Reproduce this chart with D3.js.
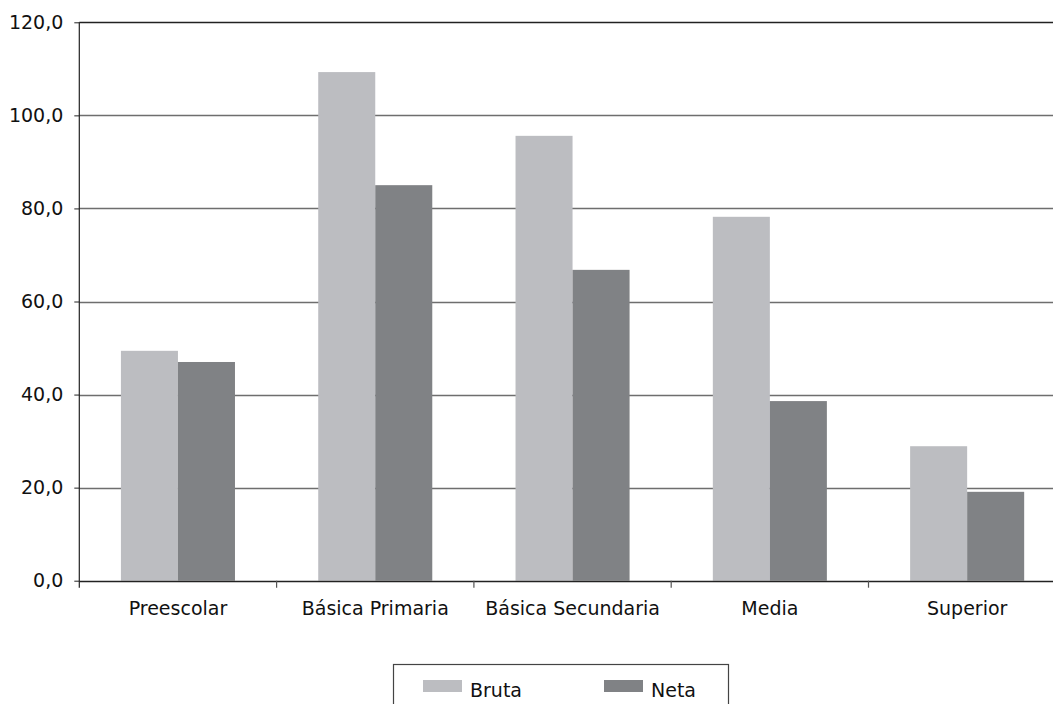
<!DOCTYPE html>
<html>
<head>
<meta charset="utf-8">
<script src="https://cdn.jsdelivr.net/npm/d3@7"></script>
<style>
  html, body { margin: 0; padding: 0; background: #fff; }
  svg { display: block; }
  text { font-family: "DejaVu Sans", sans-serif; fill: #111; }
</style>
</head>
<body>
<div id="chart"></div>
<script>
const categories = ["Preescolar", "Básica Primaria", "Básica Secundaria", "Media", "Superior"];
const seriesNames = ["Bruta", "Neta"];
const bruta = [49.4, 109.3, 95.6, 78.2, 28.9];
const neta = [47.0, 85.0, 66.8, 38.6, 19.1];
const yTicks = [0, 20, 40, 60, 80, 100, 120];
const colors = ["#bcbdc1", "#808285"];

(function () {
const W = 1053, H = 704;
const mLeft = 79.3, mTop = 22.3, mBottom = 580.7, step = 197.3;
const FS = 19;

const svg = d3.select("#chart").append("svg").attr("width", W).attr("height", H);

const x0 = d3.scaleBand().domain(categories).range([mLeft, mLeft + step * categories.length]).paddingInner(0).paddingOuter(0);
const x1 = d3.scaleBand().domain(seriesNames).range([0, x0.bandwidth()]).paddingInner(0).paddingOuter(0.73);
const y = d3.scaleLinear().domain([0, 120]).range([mBottom, mTop]);
const fmt = v => d3.format(".1f")(v).replace(".", ",");

// gridlines
svg.append("g").selectAll("line").data(yTicks.filter(d => d > 0)).join("line")
  .attr("x1", mLeft).attr("x2", W)
  .attr("y1", d => Math.round(y(d)) + 0.5).attr("y2", d => Math.round(y(d)) + 0.5)
  .attr("stroke", d => d === 120 ? "#222" : "#6e6e6e").attr("stroke-width", 1.3);

// bars
const data = categories.map((c, i) => ({ c, vals: [bruta[i], neta[i]] }));
const grp = svg.append("g").selectAll("g").data(data).join("g")
  .attr("transform", d => `translate(${x0(d.c)},0)`);
grp.selectAll("rect").data(d => d.vals.map((v, j) => ({ s: seriesNames[j], v, j }))).join("rect")
  .attr("x", d => x1(d.s)).attr("width", x1.bandwidth())
  .attr("y", d => y(d.v)).attr("height", d => y(0) - y(d.v))
  .attr("fill", d => colors[d.j]);

// y axis
const yAxis = d3.axisLeft(y).tickValues(yTicks).tickFormat(fmt).tickSize(5).tickPadding(11);
const ya = svg.append("g").attr("transform", `translate(${mLeft},0)`).call(yAxis);
ya.select(".domain").remove();
ya.selectAll(".tick line").attr("stroke", "#222");
ya.selectAll(".tick text").attr("font-size", FS).attr("font-family", "DejaVu Sans").attr("fill", "#111");
svg.append("line").attr("x1", mLeft).attr("x2", mLeft).attr("y1", mTop).attr("y2", mBottom + 7).attr("stroke", "#222").attr("stroke-width", 1.2);

// x axis
const xAxis = d3.axisBottom(x0).tickSize(0).tickPadding(21);
const xa = svg.append("g").attr("transform", `translate(0,${mBottom})`).call(xAxis);
xa.select(".domain").remove();
xa.selectAll(".tick text").attr("font-size", FS).attr("font-family", "DejaVu Sans").attr("fill", "#111");
svg.append("line").attr("x1", mLeft).attr("x2", W).attr("y1", Math.round(mBottom) + 0.5).attr("y2", Math.round(mBottom) + 0.5).attr("stroke", "#222").attr("stroke-width", 1.3);
svg.append("g").selectAll("line").data(categories.slice(1)).join("line")
  .attr("x1", d => x0(d)).attr("x2", d => x0(d))
  .attr("y1", mBottom).attr("y2", mBottom + 7).attr("stroke", "#555").attr("stroke-width", 1.2);

// legend
const lg = svg.append("g");
lg.append("rect").attr("x", 393.5).attr("y", 664.5).attr("width", 335).attr("height", 50)
  .attr("fill", "#fff").attr("stroke", "#444").attr("stroke-width", 1.2);
const li = lg.selectAll("g.li").data(seriesNames).join("g").attr("class", "li")
  .attr("transform", (d, i) => `translate(${i === 0 ? 423 : 604},0)`);
li.append("rect").attr("x", 0).attr("y", 680).attr("width", 39).attr("height", 12).attr("fill", (d, i) => colors[i]);
li.append("text").attr("x", 47).attr("y", 697).attr("font-size", FS).text(d => d);
})();
</script>
</body>
</html>
